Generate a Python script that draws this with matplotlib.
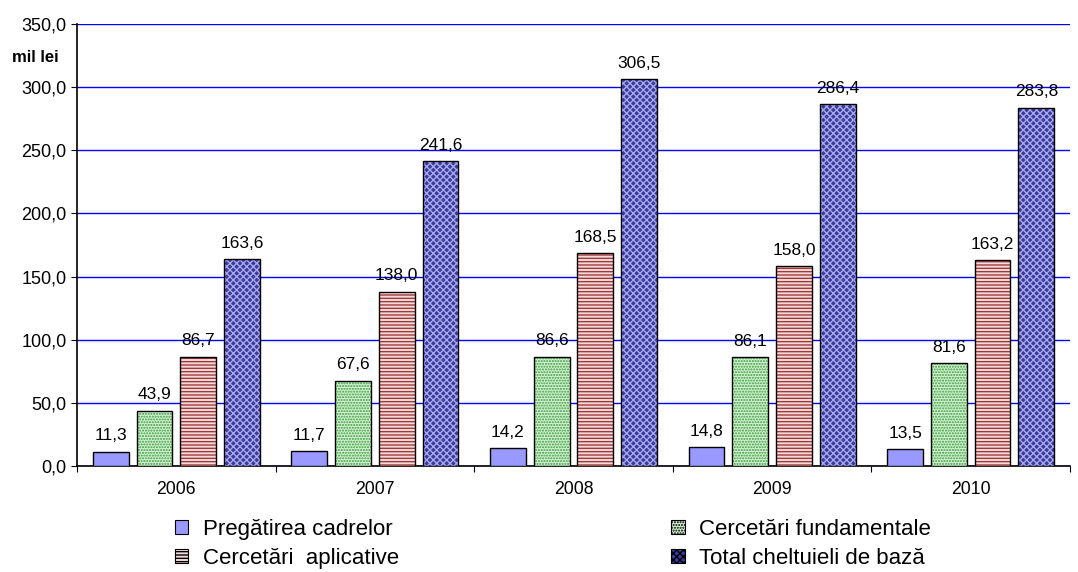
import numpy as np
import matplotlib.pyplot as plt
from matplotlib.patches import Patch

# Date
ani = ['2006', '2007', '2008', '2009', '2010']
pregatire = [11.3, 11.7, 14.2, 14.8, 13.5]
fundamentale = [43.9, 67.6, 86.6, 86.1, 81.6]
aplicative = [86.7, 138.0, 168.5, 158.0, 163.2]
total = [163.6, 241.6, 306.5, 286.4, 283.8]

serii = [
    ('Pregătirea cadrelor', pregatire, '#9999ff', None, '#9999ff'),
    ('Cercetări fundamentale', fundamentale, '#d4f2d4', '......', '#3a9a3a'),
    ('Cercetări  aplicative', aplicative, '#f4dada', '-----', '#a03a3a'),
    ('Total cheltuieli de bază', total, '#3a3a9a', 'xxxxx', '#a8a8ee'),
]

def fmt(v):
    return f'{v:.1f}'.replace('.', ',')

plt.rcParams['font.family'] = ['Liberation Sans', 'DejaVu Sans']
plt.rcParams['hatch.linewidth'] = 1.0

fig = plt.figure(figsize=(10.78, 5.72), dpi=100)
ax = fig.add_axes([0.0714, 0.1853, 0.9212, 0.7727])

x = np.arange(len(ani))
latime = 0.18
pas = 0.22
handles = []
for i, (nume, val, fc, hatch, hc) in enumerate(serii):
    pos = x + (i - 1.5) * pas
    # fundal + hasura
    ax.bar(pos, val, latime, color=fc, hatch=hatch, edgecolor=hc, linewidth=0, zorder=3)
    # contur negru
    ax.bar(pos, val, latime, fill=False, edgecolor='black', linewidth=1.0, zorder=4)
    for px, v in zip(pos, val):
        ax.annotate(fmt(v), (px, v), xytext=(0, 6), textcoords='offset points',
                    ha='center', va='bottom', fontsize=12.5, zorder=5)
    handles.append(Patch(facecolor=fc, hatch=hatch, edgecolor='black', linewidth=0.8, label=nume))

ax.set_ylim(0, 350)
ax.set_xlim(-0.5, len(ani) - 0.5)
ax.set_yticks(np.arange(0, 351, 50))
ax.set_yticklabels([fmt(t) for t in np.arange(0, 351, 50)], fontsize=13)
ax.yaxis.grid(True, color='#0000ff', linewidth=1.0, zorder=0)
ax.set_axisbelow(True)

ax.set_xticks(np.arange(-0.5, len(ani), 1.0))
ax.set_xticklabels([])
ax.set_xticks(x, minor=True)
ax.set_xticklabels(ani, minor=True, fontsize=12.7)
ax.tick_params(axis='x', which='minor', length=0, pad=11)
ax.tick_params(axis='x', which='major', length=4, direction='out')
ax.tick_params(axis='y', length=4, direction='out')

for s in ['top', 'right']:
    ax.spines[s].set_visible(False)
ax.spines['left'].set_linewidth(1.2)
ax.spines['bottom'].set_linewidth(1.2)

fig.text(0.011, 0.900, 'mil lei', fontsize=12, fontweight='bold', ha='left', va='center')

ordine = [handles[0], handles[2], handles[1], handles[3]]
fig.legend(handles=ordine, labels=[h.get_label() for h in ordine], ncol=2,
           loc='upper left', bbox_to_anchor=(0.162, 0.093), frameon=False,
           borderpad=0, borderaxespad=0,
           fontsize=16, columnspacing=12.25, handlelength=0.6, handleheight=0.6,
           handletextpad=0.67, labelspacing=0.35)

fig.savefig('out.png', dpi=100)
